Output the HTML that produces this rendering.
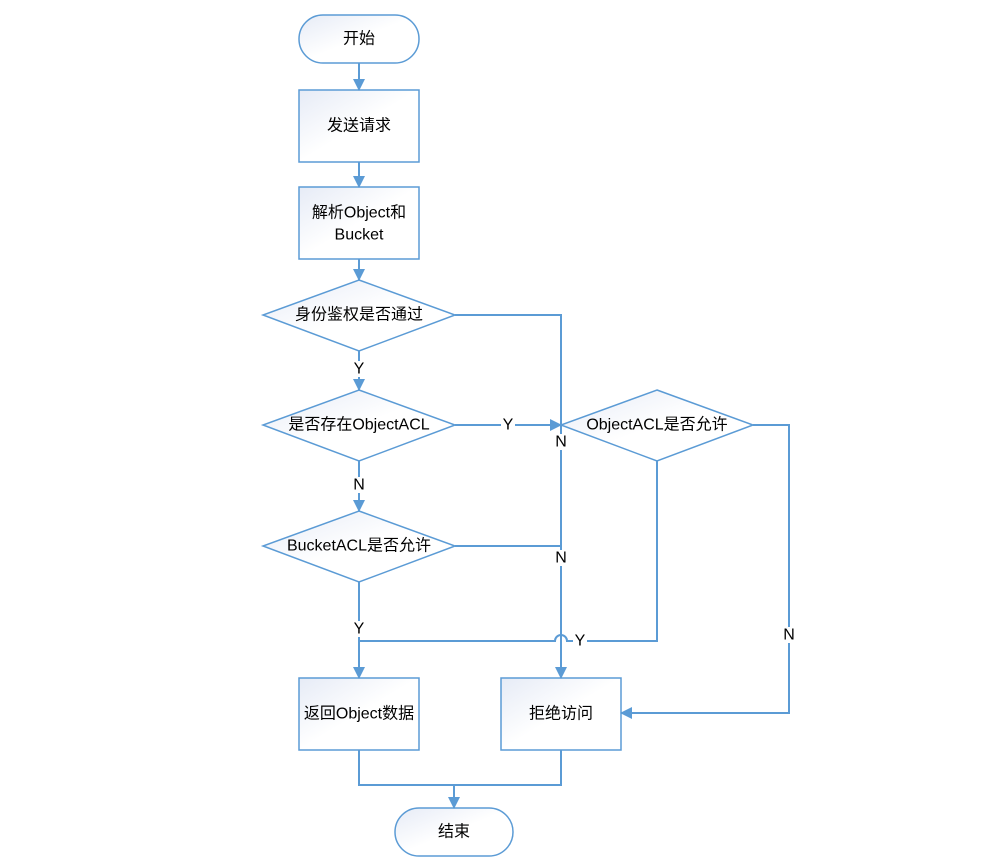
<!DOCTYPE html>
<html><head><meta charset="utf-8"><style>
html,body{margin:0;padding:0;background:#fff;}
svg{display:block;}
text{font-family:"Liberation Sans","Noto Sans CJK SC",sans-serif;font-size:16px;fill:#000;text-anchor:middle;dominant-baseline:central;}
</style></head><body>
<svg width="1006" height="862" viewBox="0 0 1006 862" xmlns="http://www.w3.org/2000/svg">
<defs>
<linearGradient id="g" x1="0" y1="0" x2="1" y2="1">
<stop offset="0" stop-color="#e6ebf6"/><stop offset="0.5" stop-color="#ffffff"/><stop offset="1" stop-color="#ffffff"/>
</linearGradient>
<marker id="a" markerWidth="12" markerHeight="12" refX="11" refY="6" orient="auto" markerUnits="userSpaceOnUse">
<path d="M0,0 L12,6 L0,12 z" fill="#5b9bd5"/>
</marker>
</defs>
<g stroke="#5b9bd5" stroke-width="1.5" fill="url(#g)">
<rect x="299" y="15" width="120" height="48" rx="24"/>
<rect x="299" y="90" width="120" height="72"/>
<rect x="299" y="187" width="120" height="72"/>
<polygon points="359,280 455,315 359,351 263,315"/>
<polygon points="359,390 455,425 359,461 263,425"/>
<polygon points="359,511 455,546 359,582 263,546"/>
<polygon points="657,390 753,425 657,461 561,425"/>
<rect x="299" y="678" width="120" height="72"/>
<rect x="501" y="678" width="120" height="72"/>
<rect x="395" y="808" width="118" height="48" rx="24"/>
</g>
<g stroke="#5b9bd5" stroke-width="2" fill="none">
<line x1="359" y1="63" x2="359" y2="90" marker-end="url(#a)"/>
<line x1="359" y1="162" x2="359" y2="187" marker-end="url(#a)"/>
<line x1="359" y1="259" x2="359" y2="280" marker-end="url(#a)"/>
<line x1="359" y1="351" x2="359" y2="390" marker-end="url(#a)"/>
<line x1="359" y1="461" x2="359" y2="511" marker-end="url(#a)"/>
<line x1="359" y1="582" x2="359" y2="678" marker-end="url(#a)"/>
<polyline points="455,315 561,315 561,678" marker-end="url(#a)"/>
<line x1="455" y1="425" x2="561" y2="425" marker-end="url(#a)"/>
<line x1="455" y1="546" x2="561" y2="546"/>
<path d="M657,461 L657,641 L567,641 A6,6 0 0 0 555,641 L359,641"/>
<polyline points="753,425 789,425 789,713 621,713" marker-end="url(#a)"/>
<polyline points="359,750 359,785 561,785 561,750"/>
<line x1="454" y1="785" x2="454" y2="808" marker-end="url(#a)"/>
</g>
<g fill="#fff">
<rect x="352" y="361" width="14" height="16"/>
<rect x="352" y="477" width="14" height="16"/>
<rect x="352" y="621" width="14" height="16"/>
<rect x="501" y="417" width="14" height="16"/>
<rect x="554" y="434" width="14" height="16"/>
<rect x="554" y="550" width="14" height="16"/>
<rect x="573" y="633" width="14" height="16"/>
<rect x="782" y="627" width="14" height="16"/>
</g>
<text x="359" y="39">开始</text>
<text x="359" y="126">发送请求</text>
<text x="359" y="213">解析Object和</text>
<text x="359" y="235">Bucket</text>
<text x="359" y="315">身份鉴权是否通过</text>
<text x="359" y="425">是否存在ObjectACL</text>
<text x="359" y="546">BucketACL是否允许</text>
<text x="657" y="425">ObjectACL是否允许</text>
<text x="359" y="714">返回Object数据</text>
<text x="561" y="714">拒绝访问</text>
<text x="454" y="832">结束</text>
<text x="359" y="369">Y</text>
<text x="359" y="485">N</text>
<text x="359" y="629">Y</text>
<text x="508" y="425">Y</text>
<text x="561" y="442">N</text>
<text x="561" y="558">N</text>
<text x="580" y="641">Y</text>
<text x="789" y="635">N</text>
</svg>
</body></html>
